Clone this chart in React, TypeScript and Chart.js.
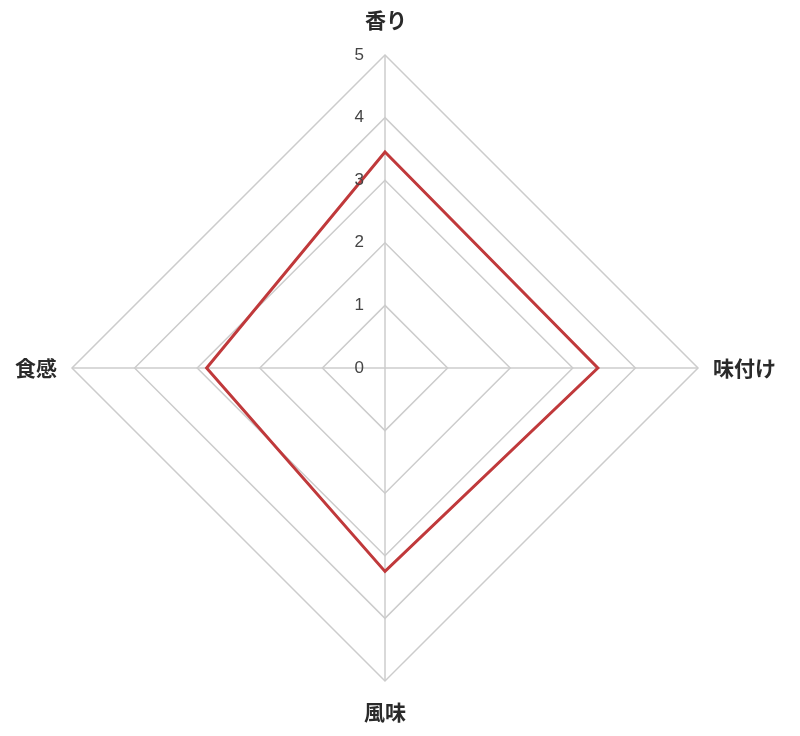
import React, { useEffect, useRef } from "react";
import { Chart, registerables } from "chart.js";

Chart.register(...registerables);

const categories = ["香り", "味付け", "風味", "食感"];
const seriesValues = [3.45, 3.4, 3.25, 2.85];
const tickValues = [0, 1, 2, 3, 4, 5];

const labelPlugin = {
  id: "customLabels",
  afterDraw(chart: any) {
    const scale = chart.scales.r;
    const ctx = chart.ctx;
    ctx.save();
    // tick labels
    ctx.font = "17px 'Liberation Sans', Arial, sans-serif";
    ctx.fillStyle = "#444";
    ctx.textAlign = "right";
    ctx.textBaseline = "middle";
    tickValues.forEach((v) => {
      const d = scale.getDistanceFromCenterForValue(v);
      ctx.fillText(String(v), scale.xCenter - 21, scale.yCenter - d);
    });
    // point labels
    ctx.font = "bold 21px 'Noto Sans CJK JP', sans-serif";
    ctx.fillStyle = "#2a2a2a";
    const R = scale.drawingArea;
    categories.forEach((c, i) => {
      if (i === 0) {
        const p = scale.getPointPosition(i, R + 35);
        ctx.textAlign = "center";
        ctx.textBaseline = "middle";
        ctx.fillText(c, p.x + 1, p.y);
      } else if (i === 2) {
        const p = scale.getPointPosition(i, R + 31);
        ctx.textAlign = "center";
        ctx.textBaseline = "middle";
        ctx.fillText(c, p.x, p.y);
      } else if (i === 1) {
        const p = scale.getPointPosition(i, R + 15);
        ctx.textAlign = "left";
        ctx.textBaseline = "middle";
        ctx.fillText(c, p.x, p.y);
      } else {
        const p = scale.getPointPosition(i, R + 15);
        ctx.textAlign = "right";
        ctx.textBaseline = "middle";
        ctx.fillText(c, p.x, p.y);
      }
    });
    ctx.restore();
  },
};

export default function App() {
  const ref = useRef<HTMLCanvasElement>(null);
  useEffect(() => {
    document.body.style.margin = "0";
    const chart = new Chart(ref.current!, {
      type: "radar",
      data: {
        labels: categories,
        datasets: [
          {
            data: seriesValues,
            borderColor: "#c0393b",
            borderWidth: 3,
            fill: false,
            pointRadius: 0,
            tension: 0,
          },
        ],
      },
      options: {
        animation: false,
        responsive: false,
        devicePixelRatio: 1,
        layout: { padding: { left: 72, right: 102, top: 55, bottom: 55 } },
        plugins: { legend: { display: false }, tooltip: { enabled: false } },
        scales: {
          r: {
            min: 0,
            max: 5,
            ticks: { display: false, stepSize: 1 },
            pointLabels: { display: false },
            grid: { color: "#cccccc", lineWidth: 1.5 },
            angleLines: { color: "#cccccc", lineWidth: 1.5 },
          },
        },
      },
      plugins: [labelPlugin],
    });
    return () => chart.destroy();
  }, []);
  return (
    <div style={{ width: 800, height: 736 }}>
      <canvas ref={ref} width={800} height={736} />
    </div>
  );
}
